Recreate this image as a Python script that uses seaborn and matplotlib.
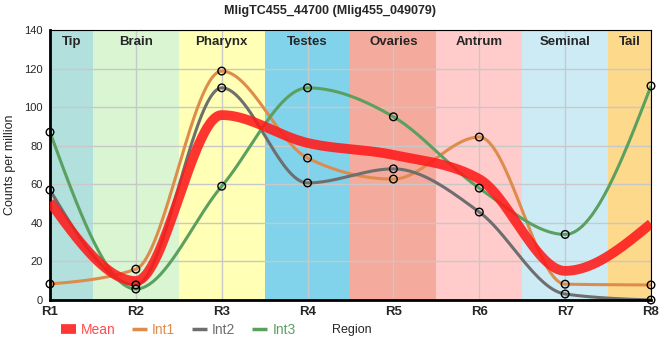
import numpy as np
import pandas as pd
import matplotlib
matplotlib.use('Agg')
import matplotlib.pyplot as plt
from matplotlib.lines import Line2D
import seaborn as sns

# data
regions = ['R1', 'R2', 'R3', 'R4', 'R5', 'R6', 'R7', 'R8']
int1 = [8.3, 16, 118.7, 73.6, 62.7, 84.5, 8.2, 7.8]
int2 = [57, 7.8, 110, 60.7, 68, 45.6, 3.1, 0]
int3 = [87, 5.7, 59, 110, 95, 58, 34, 111]
mean = list(np.mean([int1, int2, int3], axis=0))

tissues = ['Tip', 'Brain', 'Pharynx', 'Testes', 'Ovaries', 'Antrum', 'Seminal', 'Tail']
tissue_colors = ['#b2e0dc', '#d9f5d1', '#ffffb5', '#80d3eb', '#f4aa9d', '#ffcbcb', '#cdebf5', '#fdd98b']

series_colors = {'Mean': '#ff1a1a', 'Int1': '#de8c4c', 'Int2': '#6e6e6e', 'Int3': '#5aa05f'}


def monotone(y, n=60):
    # monotone cubic (same idea as d3 curveMonotoneX), only for drawing the smooth line
    y = np.asarray(y, float)
    x = np.arange(len(y), dtype=float)
    s = np.diff(y)
    m = np.zeros(len(y))
    for i in range(1, len(y) - 1):
        s0, s1 = s[i - 1], s[i]
        if s0 * s1 > 0:
            p = (s0 + s1) / 2
            m[i] = (np.sign(s0) + np.sign(s1)) * min(abs(s0), abs(s1), 0.5 * abs(p))
    m[0] = (3 * s[0] - m[1]) / 2
    m[-1] = (3 * s[-1] - m[-2]) / 2
    xs, ys = [], []
    for i in range(len(y) - 1):
        t = np.linspace(0, 1, n, endpoint=(i == len(y) - 2))
        h00 = 2 * t**3 - 3 * t**2 + 1
        h10 = t**3 - 2 * t**2 + t
        h01 = -2 * t**3 + 3 * t**2
        h11 = t**3 - t**2
        xs.append(x[i] + t)
        ys.append(h00 * y[i] + h10 * m[i] + h01 * y[i + 1] + h11 * m[i + 1])
    return np.concatenate(xs), np.concatenate(ys)


curves = []
for name, vals in [('Mean', mean), ('Int1', int1), ('Int2', int2), ('Int3', int3)]:
    cx, cy = monotone(vals)
    curves.append(pd.DataFrame({'x': cx, 'y': cy, 'series': name}))
curves = pd.concat(curves)

points = pd.concat([pd.DataFrame({'x': range(8), 'y': v, 'series': k})
                    for k, v in [('Int1', int1), ('Int2', int2), ('Int3', int3)]])

sns.set_style('white')
plt.rcParams['font.family'] = ['Liberation Sans', 'DejaVu Sans']

fig = plt.figure(figsize=(6.6, 3.6), dpi=100)
ax = fig.add_axes([50 / 660, 60 / 360, 601 / 660, 270 / 360])

# tissue bands
edges = [0, 0.5, 1.5, 2.5, 3.5, 4.5, 5.5, 6.5, 7]
for i, (name, col) in enumerate(zip(tissues, tissue_colors)):
    ax.axvspan(edges[i], edges[i + 1], color=col, zorder=0.1, lw=0)
    ax.text((edges[i] + edges[i + 1]) / 2, 137, name, ha='center', va='top',
            fontsize=9.5, fontweight='bold', zorder=5)

ax.set_axisbelow(True)
ax.grid(True, color='#c8c8c8', lw=1)

widths = {'Mean': 7, 'Int1': 2.2, 'Int2': 2.2, 'Int3': 2.2}
for name in ['Int1', 'Int2', 'Int3', 'Mean']:
    d = curves[curves['series'] == name]
    sns.lineplot(data=d, x='x', y='y', ax=ax, color=series_colors[name], lw=widths[name],
                 alpha=0.88 if name == 'Mean' else 1, sort=False, estimator=None,
                 legend=False, zorder=3 if name == 'Mean' else 2, solid_capstyle='butt')

ax.scatter(points['x'], points['y'], s=30, facecolors='none', edgecolors='black',
           linewidths=1, zorder=4, clip_on=False)

ax.set_xlim(0, 7)
ax.set_ylim(0, 140)
ax.set_xticks(range(8))
ax.set_xticklabels(regions, fontsize=9.5, fontweight='bold')
ax.set_yticks(range(0, 141, 20))
ax.tick_params(axis='y', labelsize=8, length=3, pad=2)
ax.tick_params(axis='x', length=0, pad=4)
ax.set_xlabel('')
ax.set_ylabel('Counts per million', fontsize=9, labelpad=6)

for sp in ['top', 'right']:
    ax.spines[sp].set_linewidth(0.8)
    ax.spines[sp].set_color('black')
for sp in ['left', 'bottom']:
    ax.spines[sp].set_linewidth(2)
    ax.spines[sp].set_color('black')

fig.suptitle('MligTC455_44700 (Mlig455_049079)', fontsize=9, fontweight='bold',
             x=0.5, y=0.985, va='top')

handles = [Line2D([], [], color=series_colors['Mean'], lw=7, alpha=0.88, solid_capstyle='butt'),
           Line2D([], [], color=series_colors['Int1'], lw=2.5, solid_capstyle='butt'),
           Line2D([], [], color=series_colors['Int2'], lw=2.5, solid_capstyle='butt'),
           Line2D([], [], color=series_colors['Int3'], lw=2.5, solid_capstyle='butt')]
leg = fig.legend(handles, ['Mean', 'Int1', 'Int2', 'Int3'], loc='center left',
                 bbox_to_anchor=(48 / 660, 30 / 360), ncol=4, frameon=False,
                 fontsize=10, handlelength=1.1, handletextpad=0.35, columnspacing=1.2,
                 labelcolor=['#ff4d4d', series_colors['Int1'], series_colors['Int2'],
                             series_colors['Int3']])
fig.text(352 / 660, 30 / 360, 'Region', ha='center', va='center', fontsize=9)

fig.savefig('out.png', dpi=100)
